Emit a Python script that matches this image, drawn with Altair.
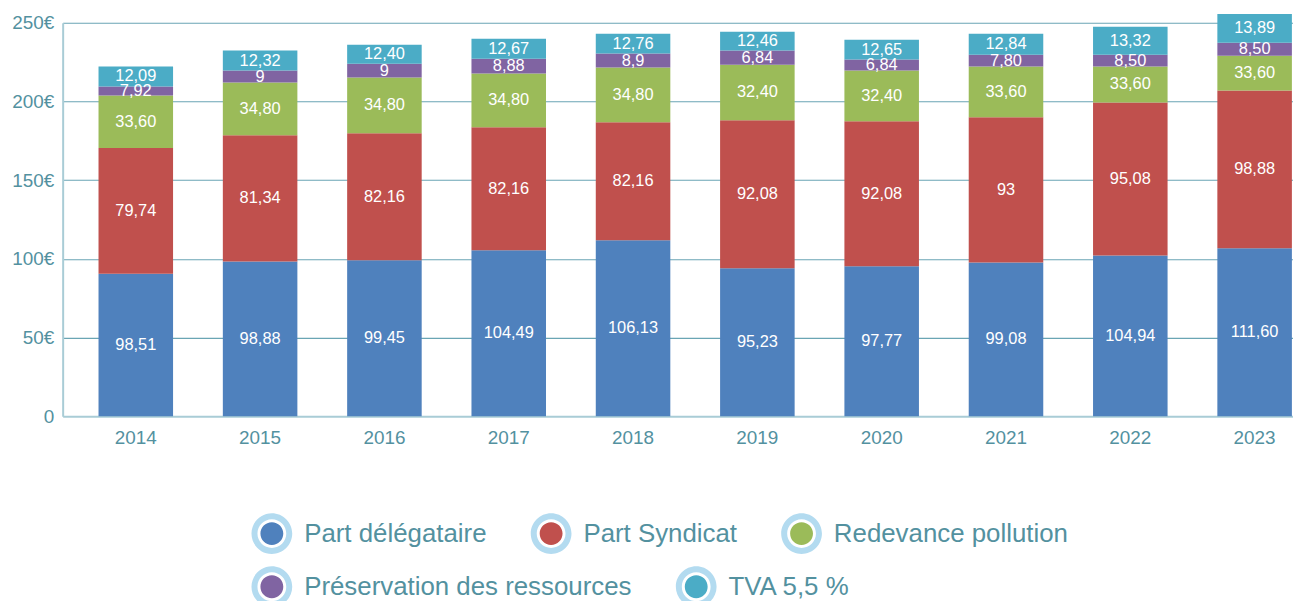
import altair as alt
import pandas as pd

years = ["2014", "2015", "2016", "2017", "2018", "2019", "2020", "2021", "2022", "2023"]
series_names = ["Part délégataire", "Part Syndicat", "Redevance pollution",
                "Préservation des ressources", "TVA 5,5 %"]
series_colors = ["#4f81bd", "#c0504d", "#9bbb59", "#8064a2", "#4bacc6"]

# segment heights (€) as drawn in the bars
delegataire = [90.6, 98.4, 99.2, 105.5, 111.8, 94.1, 95.4, 97.7, 102.1, 106.8]
syndicat = [79.8, 80.2, 80.6, 78.1, 75.0, 93.9, 92.0, 92.3, 97.3, 100.2]
pollution = [33.4, 33.4, 35.4, 34.1, 34.8, 35.4, 32.3, 32.2, 22.8, 22.1]
preservation = [5.7, 7.6, 8.8, 9.5, 8.8, 8.9, 6.9, 7.5, 7.5, 8.2]
tva = [12.7, 12.7, 12.0, 12.6, 12.6, 12.0, 12.6, 13.3, 17.7, 18.3]

# printed value labels
lab_delegataire = ["98,51", "98,88", "99,45", "104,49", "106,13", "95,23", "97,77", "99,08", "104,94", "111,60"]
lab_syndicat = ["79,74", "81,34", "82,16", "82,16", "82,16", "92,08", "92,08", "93", "95,08", "98,88"]
lab_pollution = ["33,60", "34,80", "34,80", "34,80", "34,80", "32,40", "32,40", "33,60", "33,60", "33,60"]
lab_preservation = ["7,92", "9", "9", "8,88", "8,9", "6,84", "6,84", "7,80", "8,50", "8,50"]
lab_tva = ["12,09", "12,32", "12,40", "12,67", "12,76", "12,46", "12,65", "12,84", "13,32", "13,89"]

y_ticks = [0, 50, 100, 150, 200, 250]

all_vals = [delegataire, syndicat, pollution, preservation, tva]
all_labs = [lab_delegataire, lab_syndicat, lab_pollution, lab_preservation, lab_tva]

rows = []
for si, name in enumerate(series_names):
    for yr, v, lb in zip(years, all_vals[si], all_labs[si]):
        rows.append({"year": yr, "series": name, "value": v, "label": lb, "order": si})
df = pd.DataFrame(rows)

row1 = series_names[:3]
row2 = series_names[3:]

FONT = "Liberation Sans"
TEAL = "#53919f"
LIGHT = "#a9ccd6"
GRID = "#6aa5b4"
RING = "#b3dbf0"


def circle(r, rev=False):
    k = 0.5523 * r
    f = lambda v: f"{v:.4f}"
    if not rev:
        return (f"M {f(r)} 0 C {f(r)} {f(k)} {f(k)} {f(r)} 0 {f(r)} "
                f"C {f(-k)} {f(r)} {f(-r)} {f(k)} {f(-r)} 0 "
                f"C {f(-r)} {f(-k)} {f(-k)} {f(-r)} 0 {f(-r)} "
                f"C {f(k)} {f(-r)} {f(r)} {f(-k)} {f(r)} 0 Z")
    return (f"M {f(r)} 0 C {f(r)} {f(-k)} {f(k)} {f(-r)} 0 {f(-r)} "
            f"C {f(-k)} {f(-r)} {f(-r)} {f(-k)} {f(-r)} 0 "
            f"C {f(-r)} {f(k)} {f(-k)} {f(r)} 0 {f(r)} "
            f"C {f(k)} {f(r)} {f(r)} {f(k)} {f(r)} 0 Z")


dot_path = "M -1 -1 Z M 1 1 Z " + circle(0.561)
ring_path = circle(1.0) + " " + circle(0.707, rev=True)

LEG_X = 190
LEG_Y1 = 493.5
LEG_Y2 = 547


def legend(values, y, shape, ring=False):
    kw = dict(orient="none", legendX=LEG_X, legendY=y, direction="horizontal",
              columns=len(values), values=values, columnPadding=44,
              symbolSize=1681, symbolStrokeWidth=0, symbolType=shape,
              labelFontSize=26, labelFont=FONT, labelColor=TEAL, labelOffset=12,
              labelLimit=600, title=None, padding=0, symbolOpacity=1)
    if ring:
        kw.update(labelOpacity=0, symbolFillColor=RING, symbolStrokeColor=RING)
    return alt.Legend(**kw)


base = alt.Chart(df).transform_stack(
    stack="value", groupby=["year"], as_=["y0", "y1"],
    sort=[alt.SortField("order", order="ascending")]
).transform_calculate(
    mid="(datum.y0 + datum.y1) / 2",
    s2="datum.series", s3="datum.series", s4="datum.series",
)

x_enc = alt.X("year:N", sort=years, title=None,
              scale=alt.Scale(paddingInner=0.4004, paddingOuter=0.1487, align=0.97),
              axis=alt.Axis(title=None, labelAngle=0, labelFontSize=19, labelColor=TEAL,
                            labelFont=FONT, ticks=False, tickSize=0, labelPadding=12,
                            domainColor=LIGHT, domainWidth=2, grid=False))

y_scale = alt.Scale(domain=[0, 250], nice=False, zero=True)

bars = base.mark_bar().encode(
    x=x_enc,
    y=alt.Y("y0:Q", scale=y_scale, title=None,
            axis=alt.Axis(title=None, values=y_ticks,
                          labelExpr="datum.value == 0 ? '0' : datum.value + '€'",
                          labelFontSize=19, labelColor=TEAL, labelFont=FONT,
                          labelPadding=9, ticks=False, tickSize=0,
                          domainColor=LIGHT, domainWidth=2,
                          gridColor={"condition": {"test": "datum.value === 0", "value": "transparent"},
                                     "value": GRID},
                          gridWidth=1.2)),
    y2="y1:Q",
    fill=alt.Fill("series:N", scale=alt.Scale(domain=series_names, range=series_colors),
                  legend=legend(row1, LEG_Y1, dot_path)),
)

text = base.mark_text(color="white", fontSize=16.5, font=FONT).encode(
    x=alt.X("year:N", sort=years, title=None),
    y=alt.Y("mid:Q", title=None),
    text="label:N",
)

# invisible layers that only carry the legend pieces
dots2 = base.mark_circle(opacity=0, size=0).encode(
    x=alt.X("year:N", sort=years, title=None),
    y=alt.Y("mid:Q", title=None),
    color=alt.Color("s2:N", sort=series_names, scale=alt.Scale(range=series_colors),
                    legend=legend(row2, LEG_Y2, dot_path)),
)

rings1 = base.mark_point(opacity=0, size=0, filled=True, color=RING).encode(
    x=alt.X("year:N", sort=years, title=None),
    y=alt.Y("mid:Q", title=None),
    shape=alt.Shape("s3:N", sort=series_names, scale=alt.Scale(range=[ring_path] * 5),
                    legend=legend(row1, LEG_Y1, ring_path, ring=True)),
)

rings2 = base.mark_point(opacity=0, size=0, filled=True, color=RING).encode(
    x=alt.X("year:N", sort=years, title=None),
    y=alt.Y("mid:Q", title=None),
    stroke=alt.Stroke("s4:N", sort=series_names, scale=alt.Scale(range=[RING] * 5),
                      legend=legend(row2, LEG_Y2, ring_path, ring=True)),
)

chart = alt.layer(bars, text, dots2, rings1, rings2).properties(
    width=1238, height=396,
    autosize=alt.AutoSizeParams(type="none"),
    padding={"left": 55, "top": 13, "right": 0, "bottom": 184},
).configure_view(stroke=None)

chart.save("out.html", embed_options={"renderer": "svg", "actions": False})
